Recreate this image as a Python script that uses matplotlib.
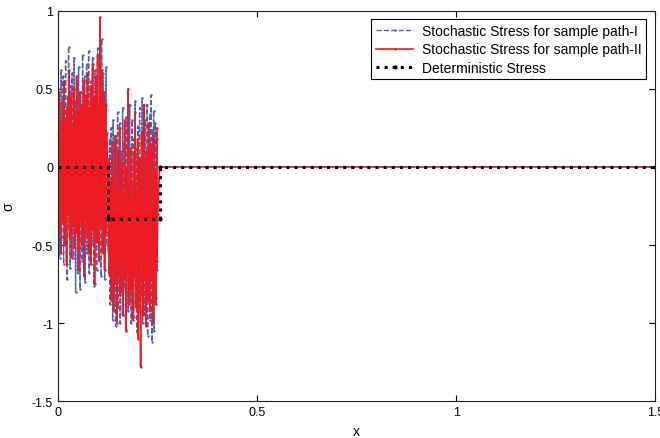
import numpy as np
import matplotlib
matplotlib.use("Agg")
import matplotlib.pyplot as plt

plt.rcParams['font.family'] = ['Liberation Sans', 'DejaVu Sans']

# Stochastic stress, sample path I (blue) for 0 <= x <= 0.25
path1 = [0.50, -0.25, 0.20, -0.58, 0.40, -0.10, 0.62, -0.45, 0.15, -0.30,
         0.58, -0.62, 0.28, 0.05, -0.50, 0.68, -0.20, 0.35, -0.72, 0.45,
         0.10, 0.77, -0.40, 0.25, -0.65, 0.52, -0.15, -0.48, 0.60, -0.35,
         0.18, -0.58, 0.70, -0.28, 0.42, -0.80, 0.30, -0.12, 0.55, -0.68,
         0.22, 0.64, -0.45, 0.08, -0.78, 0.48, -0.22, 0.36, -0.60, 0.72,
         -0.30, 0.15, -0.52, 0.58, -0.74, 0.40, -0.18, 0.66, -0.55, 0.25,
         -0.42, 0.74, -0.68, 0.32, -0.10, 0.55, -0.62, 0.20, -0.40, 0.70,
         -0.50, 0.45, -0.76, 0.28, 0.62, -0.35, 0.50, -0.66, 0.15, 0.76,
         -0.45, 0.38, -0.58, 0.68, -0.25, 0.52, -0.70, 0.82, -0.40, 0.30,
         0.60, -0.55, 0.22, -0.72, 0.48, -0.30, 0.64, -0.50, 0.10, -0.20,
         0.05, -0.68, -0.20, 0.18, -0.88, -0.40, 0.25, -0.75, -0.10, -0.98,
         0.30, -0.55, -0.85, 0.12, -0.45, -1.02, 0.20, -0.65, -0.30, 0.35,
         -0.90, -0.15, -0.72, 0.28, -1.00, -0.50, 0.10, -0.80, -0.25, 0.38,
         -0.95, -0.60, 0.15, -0.78, -0.05, -1.04, 0.32, -0.70, -0.38, 0.22,
         -0.92, -0.20, -0.66, 0.40, -0.85, 0.08, -1.00, -0.45, 0.30, -0.75,
         -0.12, -0.96, 0.18, -0.60, 0.42, -0.88, -0.30, 0.12, -1.06, -0.50,
         0.26, -0.74, -0.18, 0.38, -0.92, -0.40, 0.06, -0.82, 0.44, -1.00,
         -0.25, 0.20, -0.70, -0.95, 0.30, -0.55, 0.02, -0.86, 0.40, -1.08,
         -0.35, 0.16, -0.78, 0.34, -0.98, -0.20, 0.46, -0.90, -1.12, 0.24,
         -0.62, 0.36, -1.05, -0.15, 0.28, -0.84, -0.40, 0.18, -0.66, -0.25]

# Stochastic stress, sample path II (red)
path2 = [0.35, -0.12, 0.48, -0.40, 0.05, 0.22, -0.55, 0.30, -0.08, 0.42,
         -0.35, 0.15, 0.55, -0.20, -0.48, 0.28, 0.10, -0.62, 0.38, -0.05,
         0.20, -0.30, 0.62, -0.45, 0.12, -0.15, 0.45, -0.58, 0.25, 0.02,
         -0.38, 0.50, -0.10, 0.32, -0.52, 0.18, -0.25, 0.58, -0.42, 0.08,
         0.36, -0.66, 0.22, -0.18, 0.48, -0.35, 0.05, 0.40, -0.50, 0.28,
         -0.12, 0.55, -0.70, 0.15, 0.30, -0.28, 0.46, -0.45, 0.10, 0.60,
         -0.32, 0.20, -0.55, 0.38, -0.08, 0.52, -0.62, 0.25, -0.20, 0.66,
         -0.40, 0.12, 0.44, -0.75, 0.30, -0.15, 0.58, -0.48, 0.35, 0.72,
         -0.25, 0.40, -0.60, 0.18, 0.96, -0.38, 0.50, -0.12, 0.62, -0.55,
         0.28, -0.30, 0.48, -0.66, 0.15, 0.40, -0.42, 0.22, -0.10, -0.05,
         -0.20, -0.55, 0.05, -0.70, -0.30, -0.10, -0.85, -0.40, 0.15, -0.62,
         -0.25, -0.92, -0.05, -0.50, 0.20, -0.75, -0.35, -0.15, -1.00, -0.45,
         0.10, -0.68, -0.28, 0.25, -0.82, -0.48, -0.08, -0.60, 0.02, -0.95,
         -0.38, -0.18, -0.72, 0.30, -0.55, -0.25, -1.05, -0.42, -0.02, -0.65,
         0.50, -0.88, -0.30, -0.12, -0.58, 0.12, -0.78, -0.40, -0.20, -0.98,
         -0.50, 0.08, -0.70, -0.32, 0.35, -0.90, -0.15, -0.60, -0.45, 0.18,
         -1.10, -0.28, -0.62, 0.05, -0.80, -1.28, -0.35, 0.22, -0.55, -0.10,
         -0.95, -0.42, 0.40, -0.72, -0.22, -0.50, -1.02, 0.10, -0.65, -0.30,
         -0.85, 0.28, -0.48, -0.12, -0.92, -0.38, 0.15, -0.70, -0.25, -1.00,
         -0.55, 0.20, -0.78, -0.35, -0.05, -0.88, -0.45, 0.25, -0.60, -0.30]

noise_end = 0.25
tail_x = [0.255, 1.5]
tail_y = [0.0, 0.0]

# Deterministic stress (piecewise constant)
det_x = [0, 0.125, 0.125, 0.255, 0.255, 1.5]
det_y = [0, 0, -1/3, -1/3, 0, 0]

xs = np.linspace(0, noise_end, len(path1))
x_all = np.concatenate([xs, tail_x])
y1 = np.concatenate([path1, tail_y])
y2 = np.concatenate([path2, tail_y])

fig = plt.figure(figsize=(6.6, 4.39), dpi=100)
ax = fig.add_axes([0.088, 0.084, 0.905, 0.889])

ax.plot(x_all, y1, color='#4a62ae', linestyle='--', linewidth=1.0, marker='.', markersize=1.5,
        label='Stochastic Stress for sample path-I')
ax.plot(x_all, y2, color='#ed1c24', linestyle='-', linewidth=1.2, marker='.', markersize=1.5,
        label='Stochastic Stress for sample path-II')
ax.plot(det_x, det_y, color='black', linestyle=':', linewidth=2.2, marker='.', markersize=4,
        label='Deterministic Stress')

ax.set_xlim(0, 1.5)
ax.set_ylim(-1.5, 1)
ax.set_xticks([0, 0.5, 1, 1.5])
ax.set_xticklabels(['0', '0.5', '1', '1.5'])
ax.set_yticks([-1.5, -1, -0.5, 0, 0.5, 1])
ax.set_yticklabels(['-1.5', '-1', '-0.5', '0', '0.5', '1'])
ax.tick_params(direction='in', top=True, right=True, labelsize=9, length=4, width=0.8)
for s in ax.spines.values():
    s.set_linewidth(0.8)
    s.set_color('#222222')

ax.set_xlabel('x', fontsize=10, labelpad=4)
ax.set_ylabel('σ', fontsize=10, labelpad=12)

leg = ax.legend(loc='upper right', bbox_to_anchor=(0.985, 0.978), borderaxespad=0,
                fontsize=10, handlelength=2.7, handletextpad=0.6, numpoints=1, fancybox=False,
                framealpha=1, edgecolor='black', borderpad=0.35, labelspacing=0.3)
leg.get_frame().set_linewidth(0.8)

fig.savefig('out.png', dpi=100, facecolor='white')
